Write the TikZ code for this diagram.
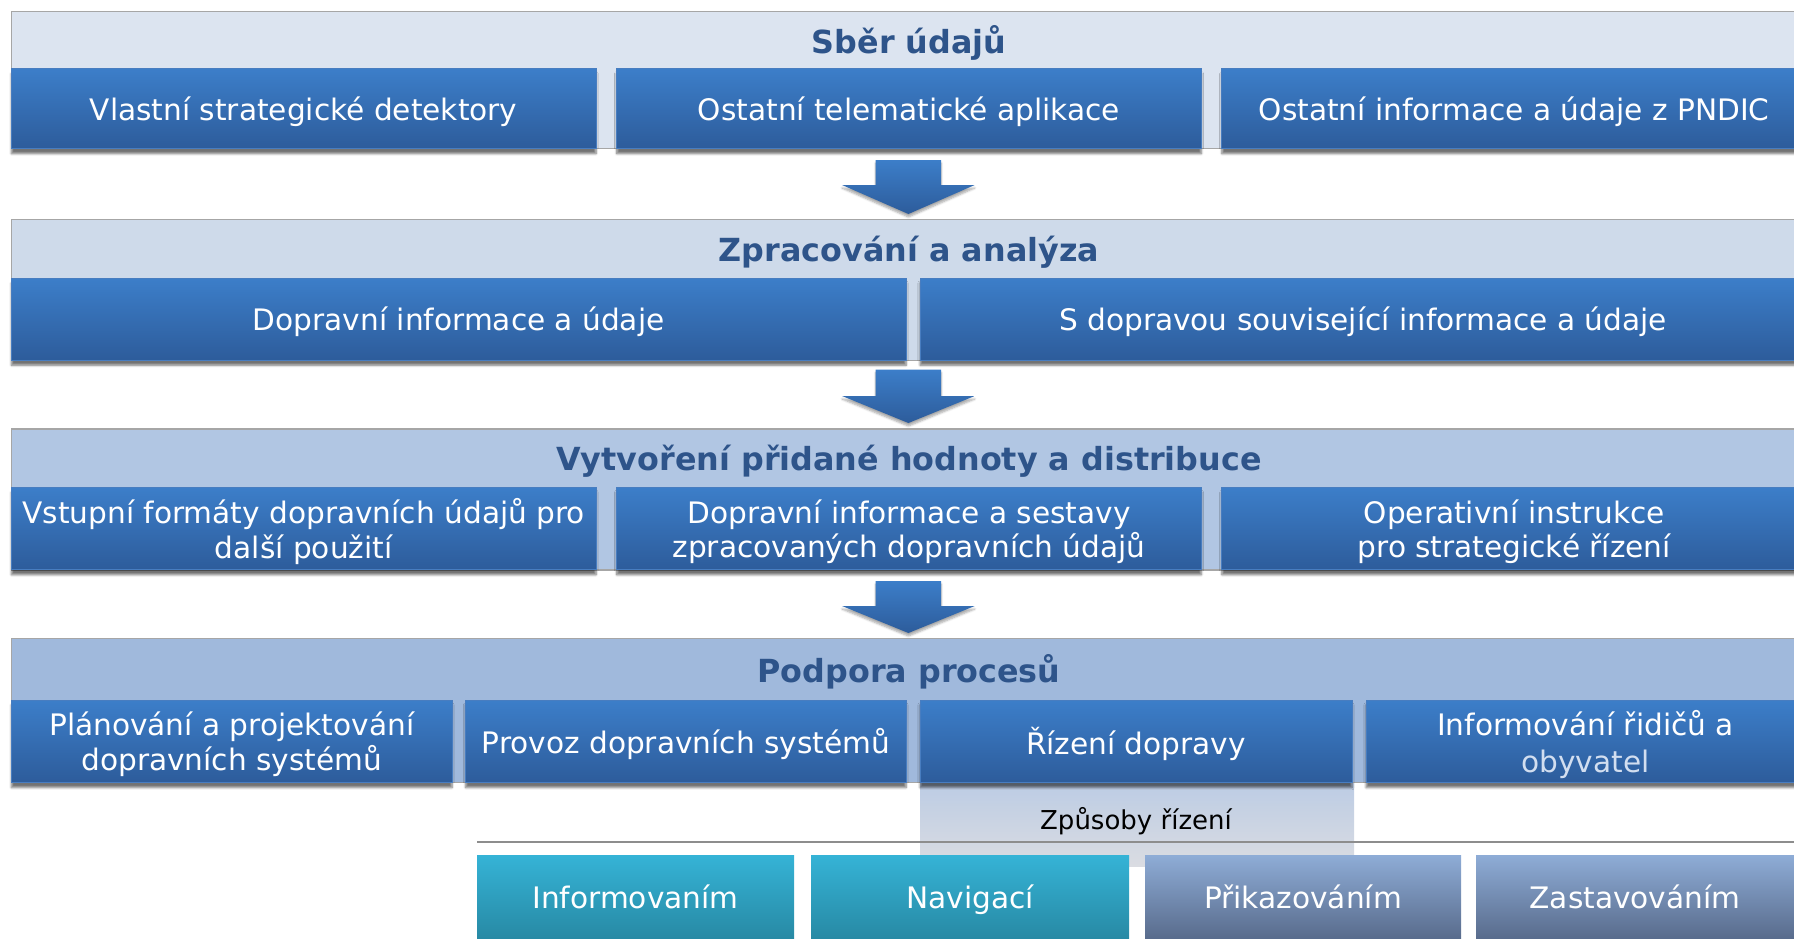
\documentclass[tikz,border=0pt]{standalone}
\usepackage{fontspec}
\setmainfont{DejaVu Sans}
\usetikzlibrary{shadows.blur}
\definecolor{bandA}{RGB}{220,228,240}
\definecolor{bandB}{RGB}{206,218,234}
\definecolor{bandC}{RGB}{177,198,227}
\definecolor{bandD}{RGB}{160,185,220}
\definecolor{bandline}{RGB}{166,166,166}
\definecolor{boxtop}{RGB}{60,126,201}
\definecolor{boxbot}{RGB}{45,92,155}
\definecolor{boxedge}{RGB}{72,125,192}
\definecolor{titletext}{RGB}{46,84,138}
\definecolor{tealtop}{RGB}{53,179,214}
\definecolor{tealbot}{RGB}{38,134,160}
\definecolor{slatetop}{RGB}{142,172,214}
\definecolor{slatebot}{RGB}{84,102,134}
\definecolor{obyv}{RGB}{210,222,240}
\definecolor{zptop}{RGB}{188,204,228}
\definecolor{zpbot}{RGB}{218,220,226}
\begin{document}
\begin{tikzpicture}[x=1pt,y=-1pt,
  band/.style={draw=bandline,line width=1.5pt,rectangle,inner sep=0pt},
  bandtitle/.style={font=\fontsize{31.8}{36}\selectfont\bfseries,text=titletext,inner sep=0pt},
  boxtext/.style={text=white,align=center,inner sep=0pt,yshift=-3pt,font=\fontsize{29.6}{34.5}\selectfont},
  bluebox/.style={rectangle,draw=boxedge,line width=1pt,top color=boxtop,bottom color=boxbot,inner sep=0pt,
    blur shadow={shadow xshift=0pt,shadow yshift=-5pt,shadow blur steps=6,shadow opacity=55}},
  tealbox/.style={rectangle,top color=tealtop,bottom color=tealbot,
    text=white,inner sep=0pt,text height=21pt,text depth=6pt,font=\fontsize{29.6}{34.5}\selectfont},
  slatebox/.style={rectangle,top color=slatetop,bottom color=slatebot,
    text=white,inner sep=0pt,text height=21pt,text depth=6pt,font=\fontsize{29.6}{34.5}\selectfont},
  flowarrow/.style={top color=boxtop,bottom color=boxbot,draw=none,
    blur shadow={shadow xshift=0pt,shadow yshift=-3pt,shadow blur steps=5,shadow opacity=35}},
  zpbox/.style={rectangle,inner sep=0pt,top color=zptop,bottom color=zpbot,draw=none}
]
\useasboundingbox (0,0) rectangle (1794,938);
\clip (0,0) rectangle (1794,938);

% ---- band 1
\node[band,fill=bandA,minimum width=1808pt,minimum height=137pt] (band1) at (915.4,80) {};
\node[bandtitle] (t1) at (909,42.5) {Sběr údajů};
\node[bluebox,minimum width=584.6pt,minimum height=80pt,label={[boxtext]center:Vlastní strategické detektory}] (b11) at (303.7,108.7) {};
\node[bluebox,minimum width=584.6pt,minimum height=80pt,label={[boxtext]center:Ostatní telematické aplikace}] (b12) at (909,108.7) {};
\node[bluebox,minimum width=584.6pt,minimum height=80pt,label={[boxtext]center:Ostatní informace a údaje z PNDIC}] (b13) at (1514.2,108.7) {};

% ---- arrow 1
\path[flowarrow] (875.7,160) -- (941.1,160) -- (941.1,185) -- (974.7,185) -- (908.4,214) -- (842.1,185) -- (875.7,185) -- cycle;

% ---- band 2
\node[band,fill=bandB,minimum width=1808pt,minimum height=140.7pt] (band2) at (915.4,290) {};
\node[bandtitle] (t2) at (909,251.9) {Zpracování a analýza};
\node[bluebox,minimum width=894.6pt,minimum height=82pt,label={[boxtext]center:Dopravní informace a údaje}] (b21) at (458.7,319.2) {};
\node[bluebox,minimum width=886pt,minimum height=82pt,label={[boxtext]center:S dopravou související informace a údaje}] (b22) at (1363,319.2) {};

% ---- arrow 2
\path[flowarrow] (875.7,369.5) -- (941.1,369.5) -- (941.1,396) -- (974.7,396) -- (908.4,423) -- (842.1,396) -- (875.7,396) -- cycle;

% ---- band 3
\node[band,fill=bandC,minimum width=1808pt,minimum height=140.8pt] (band3) at (915.4,499.4) {};
\node[bandtitle] (t3) at (909,461.3) {Vytvoření přidané hodnoty a distribuce};
\node[bluebox,minimum width=584.6pt,minimum height=82.4pt,label={[boxtext]center:Vstupní formáty dopravních údajů pro\\další použití}] (b31) at (303.7,528.6) {};
\node[bluebox,minimum width=584.6pt,minimum height=82.4pt,label={[boxtext]center:Dopravní informace a sestavy\\zpracovaných dopravních údajů}] (b32) at (909,528.6) {};
\node[bluebox,minimum width=584.6pt,minimum height=82.4pt,label={[boxtext]center:Operativní instrukce\\pro strategické řízení}] (b33) at (1514.2,528.6) {};

% ---- arrow 3
\path[flowarrow] (875.7,581) -- (941.1,581) -- (941.1,606) -- (974.7,606) -- (908.4,633) -- (842.1,606) -- (875.7,606) -- cycle;

% ---- Způsoby řízení (behind row 4)
\node[zpbox,minimum width=434pt,minimum height=84pt] (zp) at (1137,824) {};
\node[font=\fontsize{26}{30}\selectfont,text=black,inner sep=0pt] (zptext) at (1136,821) {Způsoby řízení};

% ---- band 4
\node[band,fill=bandD,minimum width=1808pt,minimum height=144.2pt] (band4) at (915.4,710.5) {};
\node[bandtitle] (t4) at (909,671.8) {Podpora procesů};
\node[bluebox,minimum width=440.6pt,minimum height=82.6pt,label={[boxtext]center:Plánování a projektování\\dopravních systémů}] (b41) at (231.7,741.3) {};
\node[bluebox,minimum width=440.4pt,minimum height=82.6pt,label={[boxtext]center:Provoz dopravních systémů}] (b42) at (685.8,741.3) {};
\node[bluebox,minimum width=432pt,minimum height=82.6pt,label={[boxtext]center:Řízení dopravy}] (b43) at (1136,741.3) {};
\node[bluebox,minimum width=439pt,minimum height=82.6pt,label={[boxtext,font=\fontsize{29.6}{37}\selectfont]center:Informování řidičů a\\{\color{obyv}obyvatel}}] (b44) at (1585.5,741.3) {};

% ---- separator line
\coordinate (lineL) at (477,842);
\coordinate (lineR) at (1800,842);
\draw[line width=2.2pt,color=bandline!85!black] (lineL) -- (lineR);

% ---- bottom row
\node[tealbox,minimum width=317pt,minimum height=90pt] (c1) at (635.5,900.5) {Informovaním};
\node[tealbox,minimum width=318pt,minimum height=90pt] (c2) at (970,900.5) {Navigací};
\node[slatebox,minimum width=316pt,minimum height=90pt] (c3) at (1303,900.5) {Přikazováním};
\node[slatebox,minimum width=318pt,minimum height=90pt] (c4) at (1635,900.5) {Zastavováním};
\end{tikzpicture}
\end{document}
